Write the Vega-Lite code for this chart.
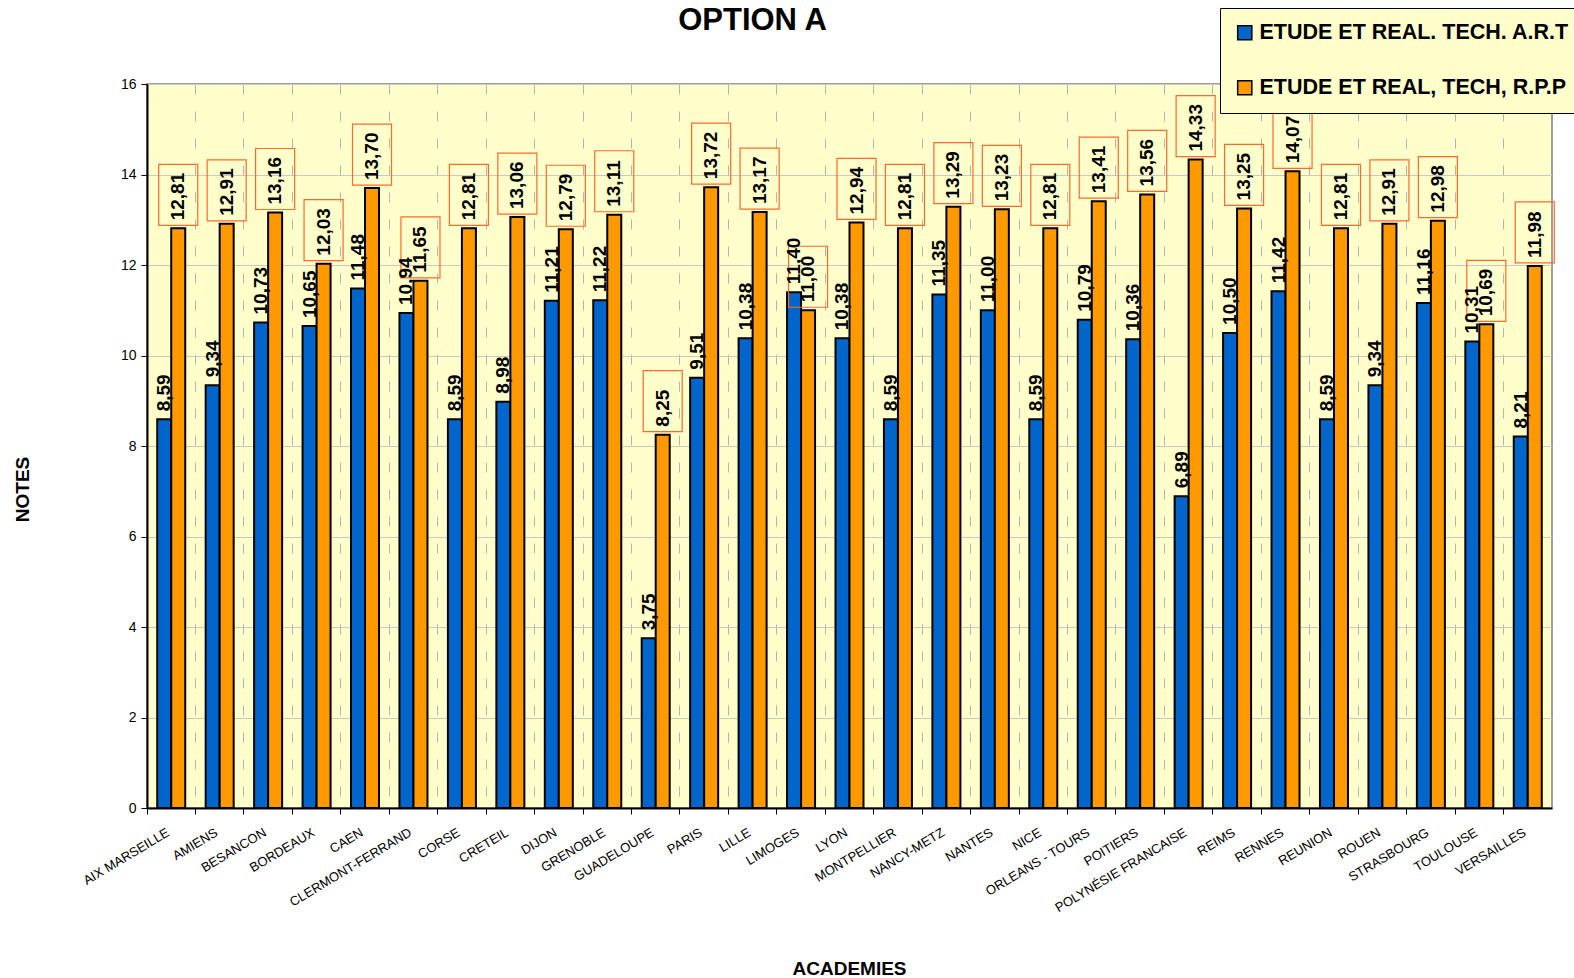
{
  "$schema": "https://vega.github.io/schema/vega-lite/v6.json",
  "width": 1405,
  "height": 724,
  "autosize": {"type": "none"},
  "padding": {"left": 147, "top": 84, "right": 22, "bottom": 170},
  "background": "white",
  "config": {
    "font": "Liberation Sans",
    "locale": {"number": {"decimal": ",", "thousands": " ", "grouping": [3], "currency": ["", " €"]}},
    "view": {"fill": "#FFFFCC", "stroke": "#808080", "strokeWidth": 1.5}
  },
  "title": {
    "text": "OPTION A",
    "font": "Liberation Sans",
    "fontSize": 31,
    "fontWeight": "bold",
    "color": "black",
    "anchor": "middle",
    "frame": "group",
    "dx": -97,
    "offset": 0,
    "dy": 60,
    "baseline": "bottom"
  },
  "data": {
    "values": [
      {"academie": "AIX MARSEILLE", "serie": "ETUDE ET REAL. TECH. A.R.T", "note": 8.59},
      {"academie": "AIX MARSEILLE", "serie": "ETUDE ET REAL, TECH, R.P.P", "note": 12.81},
      {"academie": "AMIENS", "serie": "ETUDE ET REAL. TECH. A.R.T", "note": 9.34},
      {"academie": "AMIENS", "serie": "ETUDE ET REAL, TECH, R.P.P", "note": 12.91},
      {"academie": "BESANCON", "serie": "ETUDE ET REAL. TECH. A.R.T", "note": 10.73},
      {"academie": "BESANCON", "serie": "ETUDE ET REAL, TECH, R.P.P", "note": 13.16},
      {"academie": "BORDEAUX", "serie": "ETUDE ET REAL. TECH. A.R.T", "note": 10.65},
      {"academie": "BORDEAUX", "serie": "ETUDE ET REAL, TECH, R.P.P", "note": 12.03},
      {"academie": "CAEN", "serie": "ETUDE ET REAL. TECH. A.R.T", "note": 11.48},
      {"academie": "CAEN", "serie": "ETUDE ET REAL, TECH, R.P.P", "note": 13.70},
      {"academie": "CLERMONT-FERRAND", "serie": "ETUDE ET REAL. TECH. A.R.T", "note": 10.94},
      {"academie": "CLERMONT-FERRAND", "serie": "ETUDE ET REAL, TECH, R.P.P", "note": 11.65},
      {"academie": "CORSE", "serie": "ETUDE ET REAL. TECH. A.R.T", "note": 8.59},
      {"academie": "CORSE", "serie": "ETUDE ET REAL, TECH, R.P.P", "note": 12.81},
      {"academie": "CRETEIL", "serie": "ETUDE ET REAL. TECH. A.R.T", "note": 8.98},
      {"academie": "CRETEIL", "serie": "ETUDE ET REAL, TECH, R.P.P", "note": 13.06},
      {"academie": "DIJON", "serie": "ETUDE ET REAL. TECH. A.R.T", "note": 11.21},
      {"academie": "DIJON", "serie": "ETUDE ET REAL, TECH, R.P.P", "note": 12.79},
      {"academie": "GRENOBLE", "serie": "ETUDE ET REAL. TECH. A.R.T", "note": 11.22},
      {"academie": "GRENOBLE", "serie": "ETUDE ET REAL, TECH, R.P.P", "note": 13.11},
      {"academie": "GUADELOUPE", "serie": "ETUDE ET REAL. TECH. A.R.T", "note": 3.75},
      {"academie": "GUADELOUPE", "serie": "ETUDE ET REAL, TECH, R.P.P", "note": 8.25},
      {"academie": "PARIS", "serie": "ETUDE ET REAL. TECH. A.R.T", "note": 9.51},
      {"academie": "PARIS", "serie": "ETUDE ET REAL, TECH, R.P.P", "note": 13.72},
      {"academie": "LILLE", "serie": "ETUDE ET REAL. TECH. A.R.T", "note": 10.38},
      {"academie": "LILLE", "serie": "ETUDE ET REAL, TECH, R.P.P", "note": 13.17},
      {"academie": "LIMOGES", "serie": "ETUDE ET REAL. TECH. A.R.T", "note": 11.40},
      {"academie": "LIMOGES", "serie": "ETUDE ET REAL, TECH, R.P.P", "note": 11.00},
      {"academie": "LYON", "serie": "ETUDE ET REAL. TECH. A.R.T", "note": 10.38},
      {"academie": "LYON", "serie": "ETUDE ET REAL, TECH, R.P.P", "note": 12.94},
      {"academie": "MONTPELLIER", "serie": "ETUDE ET REAL. TECH. A.R.T", "note": 8.59},
      {"academie": "MONTPELLIER", "serie": "ETUDE ET REAL, TECH, R.P.P", "note": 12.81},
      {"academie": "NANCY-METZ", "serie": "ETUDE ET REAL. TECH. A.R.T", "note": 11.35},
      {"academie": "NANCY-METZ", "serie": "ETUDE ET REAL, TECH, R.P.P", "note": 13.29},
      {"academie": "NANTES", "serie": "ETUDE ET REAL. TECH. A.R.T", "note": 11.00},
      {"academie": "NANTES", "serie": "ETUDE ET REAL, TECH, R.P.P", "note": 13.23},
      {"academie": "NICE", "serie": "ETUDE ET REAL. TECH. A.R.T", "note": 8.59},
      {"academie": "NICE", "serie": "ETUDE ET REAL, TECH, R.P.P", "note": 12.81},
      {"academie": "ORLEANS - TOURS", "serie": "ETUDE ET REAL. TECH. A.R.T", "note": 10.79},
      {"academie": "ORLEANS - TOURS", "serie": "ETUDE ET REAL, TECH, R.P.P", "note": 13.41},
      {"academie": "POITIERS", "serie": "ETUDE ET REAL. TECH. A.R.T", "note": 10.36},
      {"academie": "POITIERS", "serie": "ETUDE ET REAL, TECH, R.P.P", "note": 13.56},
      {"academie": "POLYNÉSIE FRANCAISE", "serie": "ETUDE ET REAL. TECH. A.R.T", "note": 6.89},
      {"academie": "POLYNÉSIE FRANCAISE", "serie": "ETUDE ET REAL, TECH, R.P.P", "note": 14.33},
      {"academie": "REIMS", "serie": "ETUDE ET REAL. TECH. A.R.T", "note": 10.50},
      {"academie": "REIMS", "serie": "ETUDE ET REAL, TECH, R.P.P", "note": 13.25},
      {"academie": "RENNES", "serie": "ETUDE ET REAL. TECH. A.R.T", "note": 11.42},
      {"academie": "RENNES", "serie": "ETUDE ET REAL, TECH, R.P.P", "note": 14.07},
      {"academie": "REUNION", "serie": "ETUDE ET REAL. TECH. A.R.T", "note": 8.59},
      {"academie": "REUNION", "serie": "ETUDE ET REAL, TECH, R.P.P", "note": 12.81},
      {"academie": "ROUEN", "serie": "ETUDE ET REAL. TECH. A.R.T", "note": 9.34},
      {"academie": "ROUEN", "serie": "ETUDE ET REAL, TECH, R.P.P", "note": 12.91},
      {"academie": "STRASBOURG", "serie": "ETUDE ET REAL. TECH. A.R.T", "note": 11.16},
      {"academie": "STRASBOURG", "serie": "ETUDE ET REAL, TECH, R.P.P", "note": 12.98},
      {"academie": "TOULOUSE", "serie": "ETUDE ET REAL. TECH. A.R.T", "note": 10.31},
      {"academie": "TOULOUSE", "serie": "ETUDE ET REAL, TECH, R.P.P", "note": 10.69},
      {"academie": "VERSAILLES", "serie": "ETUDE ET REAL. TECH. A.R.T", "note": 8.21},
      {"academie": "VERSAILLES", "serie": "ETUDE ET REAL, TECH, R.P.P", "note": 11.98}
    ]
  },
  "encoding": {
    "x": {
      "field": "academie",
      "type": "nominal",
      "sort": null,
      "scale": {"paddingInner": 0, "paddingOuter": 0},
      "axis": {
        "title": "ACADEMIES",
        "titleFontSize": 19,
        "titleFontWeight": "bold",
        "titleColor": "black",
        "titleX": 702,
        "titleY": 160,
        "titleAlign": "center",
        "titleBaseline": "middle",
        "labelAngle": -31,
        "labelAlign": "right",
        "labelBaseline": "middle",
        "labelFontSize": 13,
        "labelColor": "black",
        "labelPadding": 17,
        "labelOffset": -3,
        "labelLimit": 300,
        "bandPosition": 0,
        "ticks": true,
        "tickSize": 6,
        "tickColor": "black",
        "domainColor": "black",
        "domainWidth": 2,
        "grid": true,
        "gridColor": "#b4b4b4",
        "gridDash": [10, 17],
        "gridWidth": 1
      }
    },
    "xOffset": {
      "field": "serie",
      "type": "nominal",
      "sort": null,
      "scale": {"domain": ["ETUDE ET REAL. TECH. A.R.T", "ETUDE ET REAL, TECH, R.P.P"], "paddingOuter": 0.73, "paddingInner": 0}
    },
    "y": {
      "field": "note",
      "type": "quantitative",
      "scale": {"domain": [0, 16]},
      "axis": {
        "title": "NOTES",
        "titleFontSize": 19,
        "titleFontWeight": "bold",
        "titleColor": "black",
        "titleAngle": 270,
        "titleX": -125,
        "titleY": 405,
        "titleAlign": "center",
        "titleBaseline": "middle",
        "values": [0, 2, 4, 6, 8, 10, 12, 14, 16],
        "format": "d",
        "labelFontSize": 14,
        "labelColor": "black",
        "labelPadding": 5,
        "tickSize": 6,
        "tickColor": "black",
        "domainColor": "black",
        "domainWidth": 2,
        "grid": true,
        "gridColor": "#c8c8c8",
        "gridWidth": 1.2
      }
    }
  },
  "layer": [
    {
      "mark": {"type": "bar", "stroke": "black", "strokeWidth": 2},
      "encoding": {
        "color": {
          "field": "serie",
          "type": "nominal",
          "sort": null,
          "scale": {"domain": ["ETUDE ET REAL. TECH. A.R.T", "ETUDE ET REAL, TECH, R.P.P"], "range": ["#0066CC", "#FF9900"]},
          "legend": {
            "title": null,
            "orient": "none",
            "legendX": 1073,
            "legendY": -76,
            "fillColor": "#FFFFCC",
            "strokeColor": "black",
            "padding": 14,
            "symbolType": "square",
            "symbolSize": 200,
            "symbolStrokeColor": "black",
            "symbolStrokeWidth": 1.5,
            "labelFontSize": 21.5,
            "labelFontWeight": "bold",
            "labelColor": "black",
            "labelOffset": 4,
            "labelLimit": 400,
            "rowPadding": 32
          }
        }
      }
    },
    {
      "transform": [{"filter": "datum.serie == 'ETUDE ET REAL, TECH, R.P.P'"}],
      "mark": {
        "type": "point",
        "shape": "M-0.64,-1L0.64,-1L0.64,1L-0.64,1Z",
        "size": 3721,
        "filled": false,
        "stroke": "#FF6A2A",
        "strokeWidth": 1.2,
        "opacity": 1,
        "yOffset": -33.5
      },
      "encoding": {}
    },
    {
      "mark": {
        "type": "text",
        "angle": 270,
        "align": "left",
        "baseline": "middle",
        "dx": 8,
        "fontSize": 19,
        "fontWeight": "bold",
        "color": "black",
        "font": "Liberation Sans"
      },
      "encoding": {
        "text": {"field": "note", "type": "quantitative", "format": ".2f"}
      }
    }
  ]
}
